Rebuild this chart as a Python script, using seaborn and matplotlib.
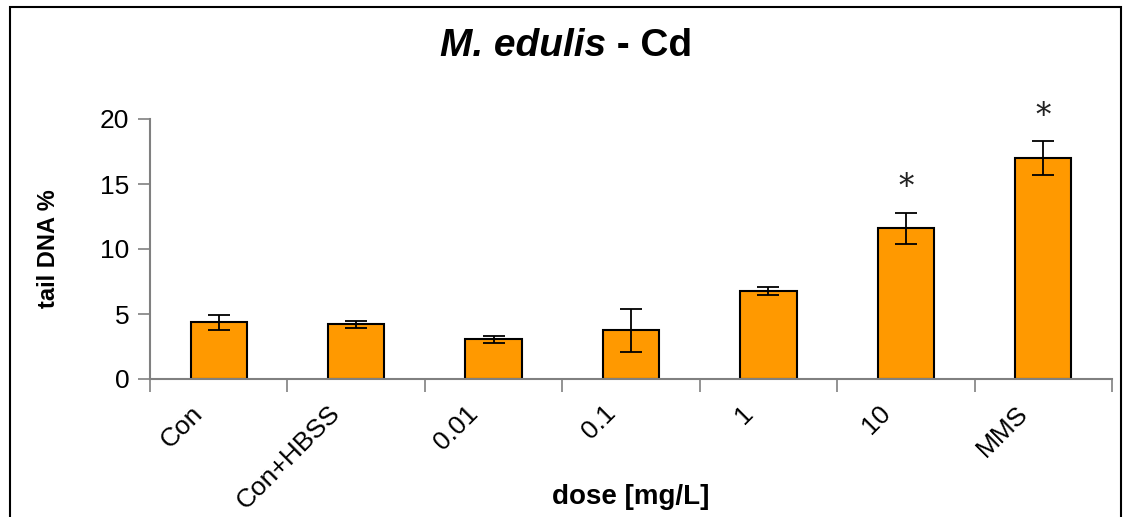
import matplotlib
matplotlib.use("Agg")
import matplotlib.pyplot as plt
import matplotlib.transforms as mtransforms
from matplotlib.patches import Rectangle
from matplotlib.ticker import FixedLocator
import seaborn as sns
import pandas as pd

doses = ["Con", "Con+HBSS", "0.01", "0.1", "1", "10", "MMS"]
tail_dna = [4.35, 4.2, 3.05, 3.75, 6.75, 11.6, 17.0]
sd = [0.6, 0.25, 0.25, 1.65, 0.3, 1.2, 1.3]
star_pos = [None, None, None, None, None, 14.7, 20.2]

df = pd.DataFrame({"dose": doses, "tail": tail_dna})

sns.set_style("white")
plt.rcParams["font.family"] = ["Liberation Sans", "DejaVu Sans"]
plt.rcParams["text.color"] = "black"
plt.rcParams["xtick.color"] = "black"
plt.rcParams["ytick.color"] = "black"
plt.rcParams["axes.labelcolor"] = "black"

W, H = 1125, 517
fig = plt.figure(figsize=(W / 100, H / 100), dpi=100)
ax = fig.add_axes([150 / W, 1 - 379 / H, (1112 - 150) / W, (379 - 119) / H])

sns.barplot(data=df, x="dose", y="tail", color="#FF9900", edgecolor="black",
            linewidth=1.5, width=0.41, saturation=1, ax=ax, errorbar=None)
ax.errorbar(range(len(doses)), tail_dna, yerr=sd, fmt="none", ecolor="black",
            elinewidth=1.3, capsize=8, capthick=1.3, zorder=5)

for i, s in enumerate(star_pos):
    if s is not None:
        ax.text(i, s, "*", ha="center", va="center", fontsize=22,
                family="DejaVu Serif", color="#222222", clip_on=False)

ax.set_xlim(-0.5, len(doses) - 0.5)
ax.set_ylim(0, 20)
ax.set_yticks([0, 5, 10, 15, 20])
ax.tick_params(axis="y", labelsize=19, length=9, width=1.2, color="#808080",
               labelcolor="black", direction="out", left=True, pad=6)

# category ticks between bars
ax.xaxis.set_minor_locator(FixedLocator([i - 0.5 for i in range(len(doses) + 1)]))
ax.tick_params(axis="x", which="major", length=0, labelsize=19, pad=16,
               labelcolor="black")
ax.tick_params(axis="x", which="minor", length=9, width=1.2, color="#808080",
               direction="out", bottom=True)
ax.set_xticks(range(len(doses)))
ax.set_xticklabels(doses, rotation=45, ha="right", rotation_mode="anchor")
offset = mtransforms.ScaledTranslation(-0.28, 0, fig.dpi_scale_trans)
for lab in ax.get_xticklabels():
    lab.set_transform(lab.get_transform() + offset)

for side in ["top", "right"]:
    ax.spines[side].set_visible(False)
for side in ["left", "bottom"]:
    ax.spines[side].set_color("#808080")
    ax.spines[side].set_linewidth(1.5)

ax.set_xlabel("dose [mg/L]", fontsize=20, fontweight="bold")
ax.xaxis.label.set_va("center")
ax.xaxis.set_label_coords(0.5, -(497 - 379) / 260)
ax.set_ylabel("tail DNA %", fontsize=17, fontweight="bold")
ax.yaxis.set_label_coords(-0.094, 0.5)

fig.text(606 / W, 1 - 46 / H, "M. edulis", ha="right", va="center",
         fontsize=28, fontweight="bold", fontstyle="italic")
fig.text(606 / W, 1 - 46 / H, " - Cd", ha="left", va="center",
         fontsize=28, fontweight="bold")

fig.patches.append(Rectangle((10 / W, -0.1), (1121 - 10) / W, 1.1 - 7 / H,
                             transform=fig.transFigure, fill=False,
                             edgecolor="black", linewidth=1.5))

plt.savefig("out.png", dpi=100)
